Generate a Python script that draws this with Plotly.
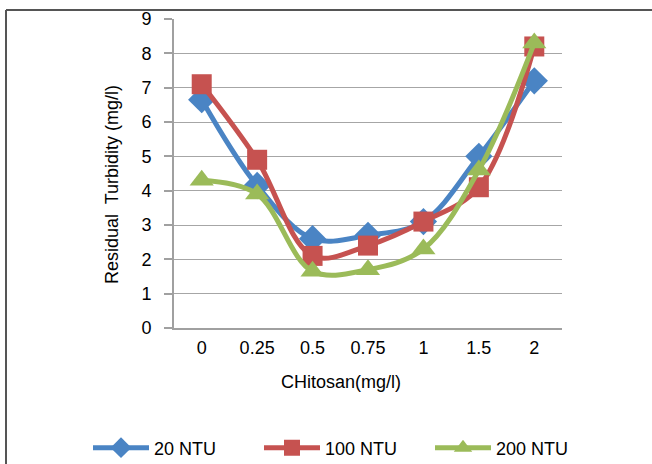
import plotly.graph_objects as go

# Chitosan dose (mg/l) on the category axis
doses = ["0", "0.25", "0.5", "0.75", "1", "1.5", "2"]

# Residual turbidity (mg/l) for each initial turbidity
ntu20 = [6.65, 4.15, 2.6, 2.7, 3.1, 5.0, 7.2]
ntu100 = [7.1, 4.9, 2.1, 2.4, 3.1, 4.1, 8.2]
ntu200 = [4.3, 3.9, 1.65, 1.7, 2.3, 4.6, 8.3]

series_names = ["20 NTU", "100 NTU", "200 NTU"]
y_ticks = list(range(0, 10))

W, H = 652, 464
L, R, T, B = 174, 90, 19, 136
pw, ph = W - L - R, H - T - B


def px_x(px):
    return (px - L) / pw


def px_y(py):
    return (H - B - py) / ph


FONT = "Liberation Sans, Arial, sans-serif"
FS = 18
styles = [
    dict(color="#4A84C4", symbol="diamond", size=21),
    dict(color="#C65250", symbol="square", size=20),
    dict(color="#9BBB59", symbol="triangle-up", size=21),
]

fig = go.Figure()
for name, vals, st in zip(series_names, [ntu20, ntu100, ntu200], styles):
    fig.add_trace(go.Scatter(
        x=doses, y=vals, name=name, mode="lines+markers",
        line=dict(color=st["color"], width=5, shape="spline", smoothing=1.0),
        marker=dict(color=st["color"], symbol=st["symbol"], size=st["size"],
                    line=dict(width=0)),
    ))

fig.update_layout(
    width=W, height=H,
    margin=dict(l=L, r=R, t=T, b=B, pad=0, autoexpand=False),
    paper_bgcolor="white", plot_bgcolor="white",
    font=dict(family=FONT, size=FS, color="#000000"),
    showlegend=True,
    legend=dict(
        orientation="h", x=px_x(88), xanchor="left", y=px_y(448), yanchor="middle",
        font=dict(family=FONT, size=FS, color="#000000"),
        itemwidth=56, entrywidth=100, entrywidthmode="pixels",
        bgcolor="rgba(0,0,0,0)",
    ),
    xaxis=dict(
        type="category", range=[-0.5, 6.5],
        showgrid=False, showline=True, linecolor="#A0A0A0", linewidth=2,
        ticks="", ticklabelstandoff=2,
        tickfont=dict(family=FONT, size=FS),
        zeroline=False,
    ),
    yaxis=dict(
        range=[0, 9], tickvals=y_ticks,
        showgrid=True, gridcolor="#A6A6A6", gridwidth=1.3,
        showline=True, linecolor="#A0A0A0", linewidth=2,
        ticks="outside", ticklen=8, tickcolor="#A0A0A0", tickwidth=1.5,
        ticklabelstandoff=9,
        tickfont=dict(family=FONT, size=FS),
        zeroline=False,
    ),
    annotations=[
        dict(text="Residual\u00a0 Turbidity (mg/l)", xref="paper", yref="paper",
             x=px_x(112), y=px_y(185), textangle=-90, showarrow=False,
             xanchor="center", yanchor="middle", font=dict(family=FONT, size=FS)),
        dict(text="CHitosan(mg/l)", xref="paper", yref="paper",
             x=px_x(341), y=px_y(382), showarrow=False,
             xanchor="center", yanchor="middle", font=dict(family=FONT, size=FS)),
    ],
    shapes=[
        dict(type="line", xref="paper", yref="paper",
             x0=px_x(6), x1=px_x(W + 2), y0=px_y(10), y1=px_y(10),
             line=dict(color="#555555", width=2)),
        dict(type="line", xref="paper", yref="paper",
             x0=px_x(6), x1=px_x(6), y0=px_y(10), y1=px_y(H + 2),
             line=dict(color="#555555", width=2)),
    ],
)

fig.write_html("out.html")
